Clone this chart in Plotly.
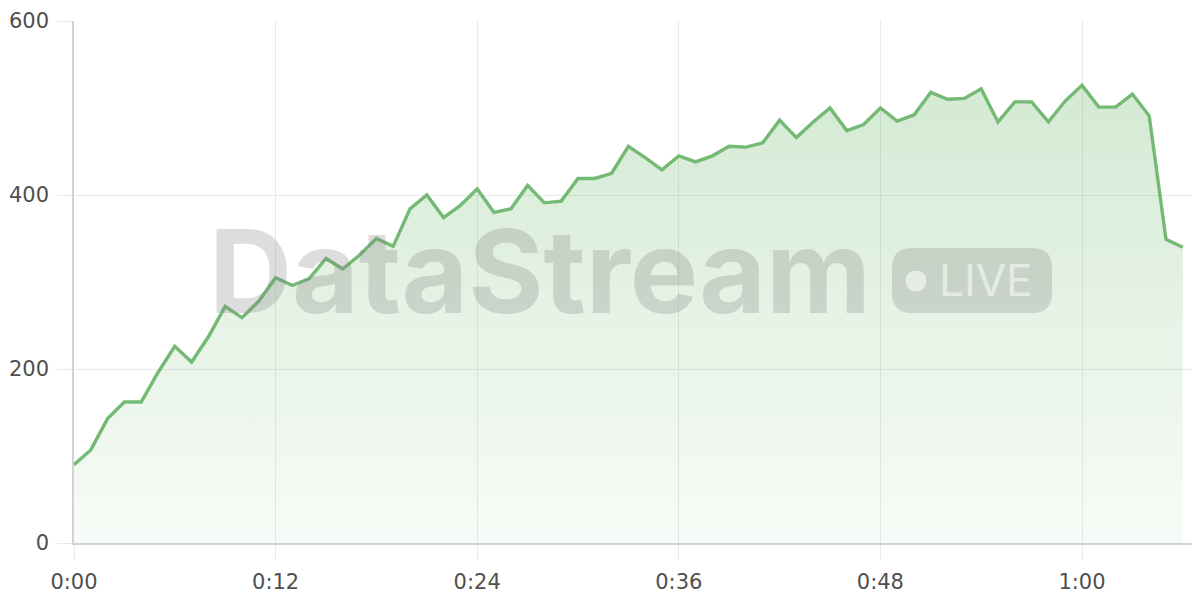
import plotly.graph_objects as go

# viewers per minute
values = [90, 107, 143, 162, 162, 196, 226, 208, 237, 272,
          259, 278, 305, 296, 304, 327, 315, 331, 350, 341,
          384, 400, 374, 388, 407, 380, 384, 411, 391, 393,
          419, 419, 425, 456, 443, 429, 445, 438, 445, 456,
          455, 460, 486, 466, 484, 500, 474, 481, 500, 485,
          492, 518, 510, 511, 522, 484, 507, 507, 484, 508,
          526, 501, 501, 516, 491, 349, 340]
minutes = list(range(len(values)))

x_ticks = [0, 12, 24, 36, 48, 60]
x_labels = ["0:00", "0:12", "0:24", "0:36", "0:48", "1:00"]
y_ticks = [0, 200, 400, 600]

# the page body has an 8px margin, so the figure starts 8px in;
# positions below are screen pixels, minus that offset
OFF = 8
W, H = 1200, 600 - OFF
L, R, T, B = 74 - OFF, 0, 21 - OFF, 57
grid = "#e9e9e9"
axis = "#d2d2d2"
mark = "rgba(128,128,128,0.27)"


def px(x):
    # screen x -> paper
    return (x - OFF - L) / (W - L - R)


def py(y):
    # screen y -> paper
    return (H - B - (y - OFF)) / (H - T - B)


fig = go.Figure()
fig.add_trace(go.Scatter(
    x=minutes, y=values, mode="lines",
    line=dict(color="#74b974", width=3.4),
    fill="tozeroy",
    fillgradient=dict(type="vertical",
                      colorscale=[[0, "rgba(110,185,110,0.05)"],
                                  [1, "rgba(110,185,110,0.30)"]]),
    hoverinfo="skip",
))

# watermark
fig.add_annotation(text="<b>DataStream</b>", x=px(540), y=py(271),
                   xref="paper", yref="paper", showarrow=False,
                   xanchor="center", yanchor="middle",
                   font=dict(family="Inter", size=115, color=mark))

# LIVE pill (rounded rect with quadratic corners)
x0, x1, y0, y1 = px(892), px(1052), py(313), py(248)
rx, ry = 20 / (W - L - R), 20 / (H - T - B)
pill = (f"M {x0+rx},{y0} L {x1-rx},{y0} Q {x1},{y0} {x1},{y0+ry} "
        f"L {x1},{y1-ry} Q {x1},{y1} {x1-rx},{y1} L {x0+rx},{y1} "
        f"Q {x0},{y1} {x0},{y1-ry} L {x0},{y0+ry} Q {x0},{y0} {x0+rx},{y0} Z")
fig.add_shape(type="path", path=pill, xref="paper", yref="paper",
              fillcolor=mark, line=dict(width=0))
fig.add_shape(type="circle", xref="paper", yref="paper",
              x0=px(905.5), x1=px(926.5), y0=py(291.5), y1=py(270.5),
              fillcolor="rgba(255,255,255,0.55)", line=dict(width=0))
fig.add_annotation(text="LIVE", x=px(986), y=py(280),
                   xref="paper", yref="paper", showarrow=False,
                   xanchor="center", yanchor="middle",
                   font=dict(family="Inter", size=44, color="rgba(255,255,255,0.55)"))

fig.update_layout(
    width=W, height=H,
    margin=dict(l=L, r=R, t=T, b=B),
    paper_bgcolor="white", plot_bgcolor="white",
    showlegend=False,
    font=dict(family="DejaVu Sans", size=21, color="#4f4f4f"),
)
# 16.8 px per minute over a 1134 px wide plot area
fig.update_xaxes(range=[0, 67.5], tickvals=x_ticks, ticktext=x_labels,
                 showgrid=True, gridcolor=grid, gridwidth=1,
                 ticks="outside", ticklen=15, tickcolor=grid,
                 showline=True, linecolor=axis, linewidth=1.5,
                 zeroline=False, ticklabelstandoff=4)
fig.update_yaxes(range=[0, 600], tickvals=y_ticks,
                 showgrid=True, gridcolor=grid, gridwidth=1,
                 ticks="outside", ticklen=15, tickcolor=grid,
                 showline=True, linecolor=axis, linewidth=1.5,
                 zeroline=False, ticklabelstandoff=4)

fig.write_html("out.html")
